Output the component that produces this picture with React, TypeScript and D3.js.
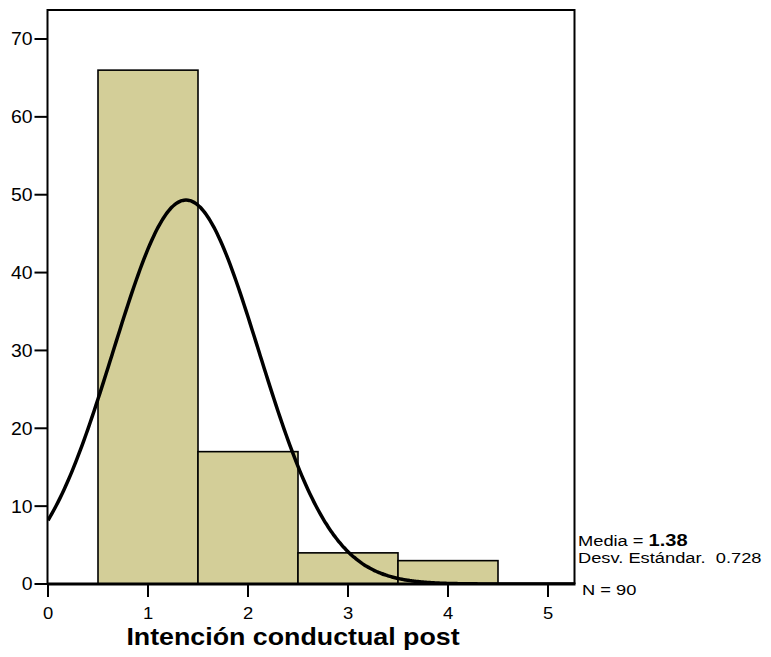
import React from "react";
import * as d3 from "d3";

// bins of the histogram (lower edge, upper edge) and their counts
const binStarts = [0.5, 1.5, 2.5, 3.5];
const binEnds = [1.5, 2.5, 3.5, 4.5];
const counts = [66, 17, 4, 3];
const xTicks = [0, 1, 2, 3, 4, 5];
const yTicks = [0, 10, 20, 30, 40, 50, 60, 70];
const mean = 1.38;
const sd = 0.728;
const n = 90;

const W = 771;
const H = 657;

const App = () => {
  const svgRef = React.useRef<SVGSVGElement>(null);

  React.useEffect(() => {
    const svg = d3.select(svgRef.current);
    svg.selectAll("*").remove();

    const left = 47.5;
    const right = 574.5;
    const top = 10;
    const bottom = 584;

    const x = d3.scaleLinear().domain([0, 5]).range([48, 548]);
    const y = d3.scaleLinear().domain([0, 70]).range([bottom, 39]);
    const font = "Liberation Sans, Arial, sans-serif";
    // the source text is a little wider than Liberation Sans, stretch it
    const at = (px: number, py: number, s: number) => `translate(${px},${py}) scale(${s},1)`;

    svg.append("defs").append("clipPath").attr("id", "plotclip")
      .append("rect").attr("x", left).attr("y", top)
      .attr("width", right - left).attr("height", bottom - top);

    // bars
    svg.append("g")
      .selectAll("rect")
      .data(counts)
      .join("rect")
      .attr("x", (d, i) => x(binStarts[i]))
      .attr("y", (d) => y(d))
      .attr("width", (d, i) => x(binEnds[i]) - x(binStarts[i]))
      .attr("height", (d) => y(0) - y(d))
      .attr("fill", "#d3ce98")
      .attr("stroke", "#000")
      .attr("stroke-width", 1.6);

    // normal curve from the stated mean / sd, scaled to N * bin width
    const binWidth = binEnds[0] - binStarts[0];
    const pdf = (v: number) =>
      (n * binWidth) / (sd * Math.sqrt(2 * Math.PI)) *
      Math.exp(-((v - mean) ** 2) / (2 * sd * sd));
    const xs = d3.range(0, 5.3, 0.02);
    const line = d3.line<number>().x((v) => x(v)).y((v) => y(pdf(v))).curve(d3.curveBasis);
    svg.append("path")
      .attr("clip-path", "url(#plotclip)")
      .attr("d", line(xs))
      .attr("fill", "none")
      .attr("stroke", "#000")
      .attr("stroke-width", 3.5);

    // frame
    svg.append("path")
      .attr("d", `M${left},${bottom}V${top}H${right}V${bottom}`)
      .attr("fill", "none")
      .attr("stroke", "#000")
      .attr("stroke-width", 2);
    svg.append("line")
      .attr("x1", left).attr("x2", right + 1)
      .attr("y1", bottom).attr("y2", bottom)
      .attr("stroke", "#000").attr("stroke-width", 3);

    // y axis
    const yAxis = svg.append("g").attr("font-family", font).attr("font-size", 18);
    yAxis.selectAll("line").data(yTicks).join("line")
      .attr("x1", left - 13).attr("x2", left)
      .attr("y1", (d) => y(d)).attr("y2", (d) => y(d))
      .attr("stroke", "#000").attr("stroke-width", 2);
    yAxis.selectAll("text").data(yTicks).join("text")
      .attr("transform", (d) => at(left - 15, y(d), 1.08))
      .attr("dy", "0.36em")
      .attr("text-anchor", "end")
      .text((d) => d);

    // x axis
    const xAxis = svg.append("g").attr("font-family", font).attr("font-size", 16);
    xAxis.selectAll("line").data(xTicks).join("line")
      .attr("x1", (d) => x(d)).attr("x2", (d) => x(d))
      .attr("y1", bottom).attr("y2", bottom + 13)
      .attr("stroke", "#000").attr("stroke-width", 2);
    xAxis.selectAll("text").data(xTicks).join("text")
      .attr("transform", (d) => at(x(d), 619, 1.15))
      .attr("text-anchor", "middle")
      .text((d) => d);

    svg.append("text")
      .attr("transform", at(293, 645, 1.14))
      .attr("text-anchor", "middle")
      .attr("font-family", font)
      .attr("font-weight", "bold")
      .attr("font-size", 23.5)
      .text("Intención conductual post");

    // stats box
    const stats = svg.append("g").attr("font-family", font).attr("font-size", 15.5);
    const m = stats.append("text").attr("transform", at(578, 546, 1.18));
    m.append("tspan").text("Media = ");
    m.append("tspan").attr("font-weight", "bold").attr("font-size", 17).text(mean.toFixed(2));
    stats.append("text").attr("transform", at(578, 563, 1.18))
      .attr("xml:space", "preserve")
      .text(`Desv. Estándar.  ${sd.toFixed(3)}`);
    stats.append("text").attr("transform", at(582, 595, 1.18)).text(`N = ${n}`);
  }, []);

  return (
    <svg
      ref={svgRef}
      width={W}
      height={H}
      style={{ position: "absolute", left: 0, top: 0, background: "#fff" }}
    />
  );
};

export default App;
